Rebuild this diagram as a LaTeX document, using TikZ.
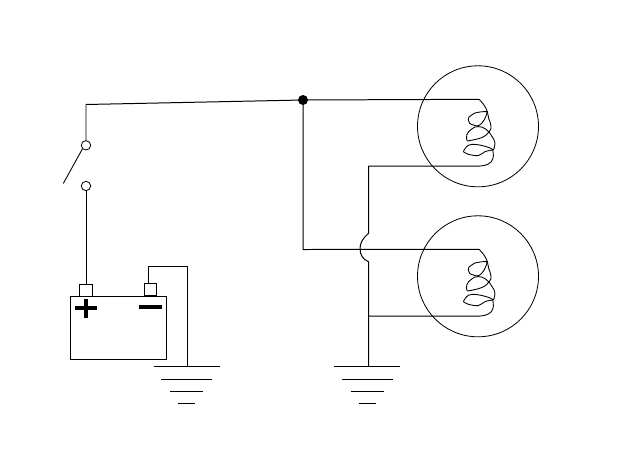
\documentclass[tikz,border=0pt]{standalone}
\usetikzlibrary{calc}
\tikzset{
  x=0.03cm,y=-0.03cm,
  wire/.style={line width=0.85pt,line join=round},
  thinwire/.style={line width=0.75pt,line join=round},
  heavy/.style={line width=2.6pt},
  ring/.style={circle,draw,line width=0.7pt,inner sep=0pt,minimum size=#1*0.03cm},
  term/.style={rectangle,draw,line width=0.85pt,inner sep=0pt,minimum width=12.4*0.03cm,minimum height=12.4*0.03cm},
  dotnode/.style={circle,fill=black,inner sep=0pt,minimum size=10*0.03cm},
  pics/filament/.style={code={
    \draw[thinwire] plot[smooth,tension=0.7] coordinates {(1,-27)(6,-21.3)(9.3,-14.7)(10.7,-8)(13,-0.3)(11.3,5.3)(3.7,11.3)(-10.7,14.7)};
    \draw[thinwire] plot[smooth,tension=0.8] coordinates {(-10.7,14.7)(-11.3,8.7)(-6.3,2.7)(0.3,0.3)(8,3)(13.7,9.7)(17,17)(15.3,23.7)};
    \draw[thinwire] plot[smooth,tension=0.7] coordinates {(15.3,23.7)(10.3,21)(-1.3,18.3)(-9.7,19)(-14.7,25.3)};
    \draw[thinwire] plot[smooth,tension=0.6] coordinates {(-14.7,25.3)(-9.7,28)(0.3,29.3)(7,25.3)(14.7,23.7)};
    \draw[thinwire] plot[smooth,tension=0.8] coordinates {(14.7,23.7)(15,32)(10.3,37.7)(2,39.7)};
    \draw[thinwire] plot[smooth,tension=1] coordinates {(9.3,-14.7)(0.3,-14)(-6.3,-11.3)(-9.7,-6.3)(-4.7,-1.3)(3.7,-3)(9.3,-14.7)};
  }},
  pics/earth/.style={code={
    \draw[wire] (-33,0)--(33,0) (-25.5,13)--(25.5,13) (-16.5,25.5)--(16.5,25.5) (-8.5,37)--(8.5,37);
  }}
}
\begin{document}
\begin{tikzpicture}
\useasboundingbox (0,0) rectangle (624,467);
% nodes
\node[dotnode] (junction) at (303,100) {};
\node[ring=9.4] (swtop) at (86,145.3) {};
\node[ring=9.4] (swbot) at (86,186) {};
\node[ring=121] (bulbA) at (478,126.3) {};
\node[ring=121] (bulbB) at (478,276.3) {};
\node[rectangle,draw,line width=0.85pt,inner sep=0pt,minimum width=96.5*0.03cm,minimum height=63*0.03cm] (battery) at (118.7,327.5) {};
\node[term] (plus) at (85.8,290.3) {};
\node[term] (minus) at (150.7,289.5) {};
% filaments
\pic at (bulbA.center) {filament};
\pic at (bulbB.center) {filament};
% grounds
\coordinate (gndL) at (186.5,366);
\coordinate (gndR) at (367,366);
\pic at (gndL) {earth};
\pic at (gndR) {earth};
% plus and minus signs
\draw[heavy] (75,308)--(97,308) (86,299)--(86,318);
\draw[heavy] (139,307)--(162,307);
% switch
\draw[wire] (swtop.north) -- (86,104.5) -- (junction.center);
\coordinate (bladeEnd) at (63.3,183.5);
\draw[thinwire] (swtop.south west) -- (bladeEnd);
\draw[wire] (swbot.south) -- (plus.north -| swbot.south);
% negative lead
\draw[wire] (148.5,283.3) -- (148.5,266.5) -- (187.5,266.5) -- (187.5,366);
% feed
\coordinate (topA) at ($(bulbA.center)+(1,-27)$);
\coordinate (topB) at ($(bulbB.center)+(1,-27)$);
\coordinate (botA) at ($(bulbA.center)+(2,39.7)$);
\coordinate (botB) at ($(bulbB.center)+(2,39.7)$);
\draw[wire] (junction.center) -- (topA);
\draw[wire] (junction.center) -- (303,249.5) -- (topB);
% return with hop
\draw[wire] (botA) -- (368.5,166) -- (368.5,233.3)
  .. controls (363,238) and (360,243) .. (360,248.5)
  .. controls (360,255) and (363,259.5) .. (368.5,261.7) -- (368.5,366);
\draw[wire] (368.5,316) -- (botB);
\end{tikzpicture}
\end{document}
